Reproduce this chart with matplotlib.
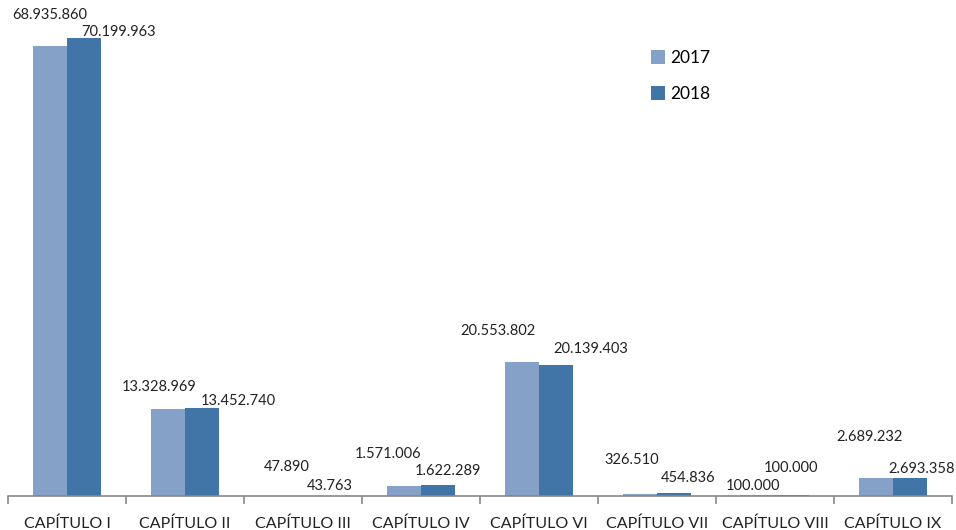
import numpy as np
import matplotlib
matplotlib.use("Agg")
import matplotlib.pyplot as plt

plt.rcParams['font.family'] = ['Lato', 'DejaVu Sans']

# data
capitulos = ["CAPÍTULO I", "CAPÍTULO II", "CAPÍTULO III", "CAPÍTULO IV",
             "CAPÍTULO VI", "CAPÍTULO VII", "CAPÍTULO VIII", "CAPÍTULO IX"]
valores_2017 = [68935860, 13328969, 47890, 1571006, 20553802, 326510, 100000, 2689232]
valores_2018 = [70199963, 13452740, 43763, 1622289, 20139403, 454836, 100000, 2693358]

# label offsets in pixels from bar top (manual placement like the original)
off_2017 = [(0, 31), (-9, 22), (1, 29), (-16, 32), (-24, 31), (-8, 34), (-5, 9), (-6, 41)]
off_2018 = [(35, 6), (36, 7), (10, 10), (10, 14), (35, 16), (14, 15), (-1, 27), (12, 9)]

color_2017 = "#86A1C8"
color_2018 = "#4174A7"

fig = plt.figure(figsize=(9.56, 5.30), dpi=100)
ax = fig.add_axes([8 / 956, 1 - 496 / 530, 944 / 956, 476 / 530])

x = np.arange(len(capitulos))
w = 0.288
b1 = ax.bar(x - w / 2, valores_2017, w, color=color_2017, label="2017")
b2 = ax.bar(x + w / 2, valores_2018, w, color=color_2018, label="2018")

def fmt(v):
    return "{:,}".format(v).replace(",", ".")

for bars, vals, offs in [(b1, valores_2017, off_2017), (b2, valores_2018, off_2018)]:
    for rect, v, (dx, dy) in zip(bars, vals, offs):
        ax.annotate(fmt(v), (rect.get_x() + rect.get_width() / 2, rect.get_height()),
                    xytext=(dx, dy), textcoords="offset pixels",
                    ha="center", va="center", fontsize=10.5, color="#222222")

ax.set_xlim(-0.5, len(capitulos) - 0.5)
ax.set_ylim(0, 476 / 6.524 * 1e6)

for s in ["top", "right", "left"]:
    ax.spines[s].set_visible(False)
ax.spines["bottom"].set_color("#888888")
ax.spines["bottom"].set_linewidth(1.2)
ax.set_yticks([])

ax.set_xticks(x)
ax.set_xticklabels(capitulos, fontsize=11.5, color="#222222")
ax.tick_params(axis="x", which="major", length=0, pad=15)
ax.set_xticks(np.arange(len(capitulos) + 1) - 0.5, minor=True)
ax.tick_params(axis="x", which="minor", length=6, width=1.2, color="#888888")

ax.legend(loc="upper left", bbox_to_anchor=(636 / 944, 1 - 23 / 476), frameon=False,
          fontsize=12.5, handlelength=0.8, handleheight=0.8, handletextpad=0.3,
          labelspacing=1.15, borderaxespad=0)

fig.savefig("out.png", dpi=100)
